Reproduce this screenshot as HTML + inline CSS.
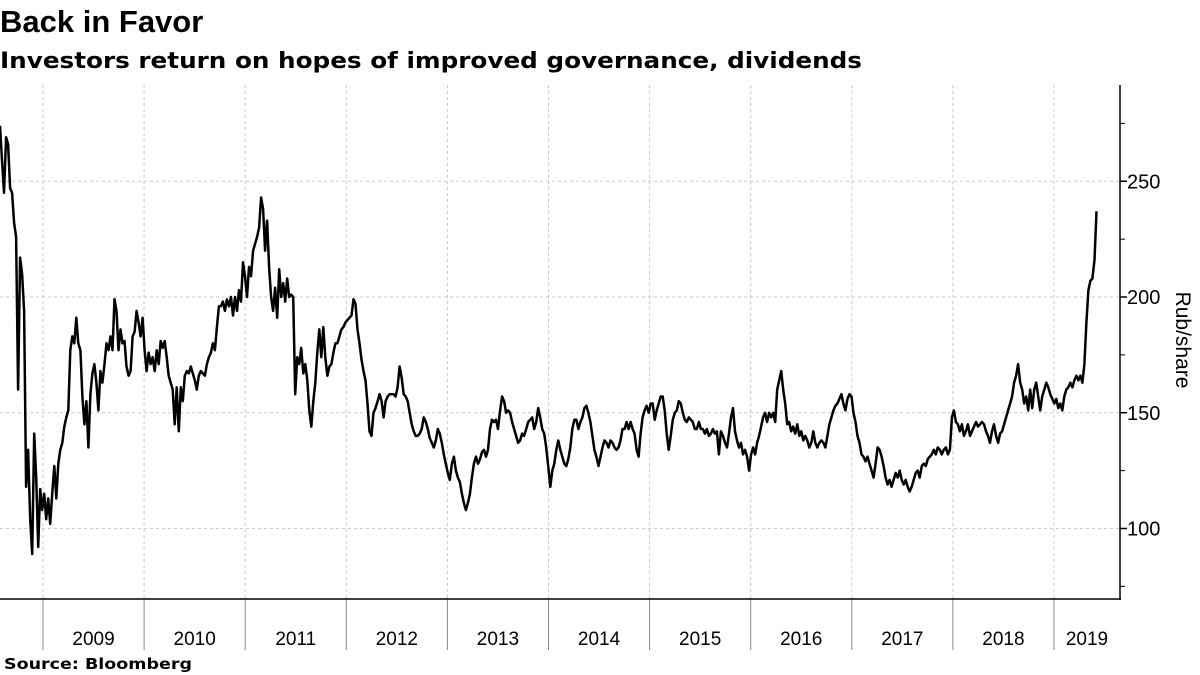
<!DOCTYPE html>
<html><head><meta charset="utf-8">
<style>
html,body{margin:0;padding:0;background:#fff;}
svg{display:block;}
</style></head>
<body>
<svg id="chart" width="1200" height="675" xmlns="http://www.w3.org/2000/svg">
<text x="0" y="32" font-family="Liberation Sans, sans-serif" font-weight="bold" font-size="31" fill="#000">Back in Favor</text>
<text x="0" y="68" font-family="DejaVu Sans, sans-serif" font-weight="bold" font-size="22" textLength="862" lengthAdjust="spacingAndGlyphs" fill="#000">Investors return on hopes of improved governance, dividends</text>
<text x="4" y="669" font-family="DejaVu Sans, sans-serif" font-weight="bold" font-size="15" textLength="188" lengthAdjust="spacingAndGlyphs" fill="#000">Source:  Bloomberg</text>
<text transform="translate(1176,340) rotate(90)" text-anchor="middle" font-family="Liberation Sans, sans-serif" font-size="21" fill="#000">Rub/share</text>
<g id="grid"></g>
<g id="axes"></g>
<path id="line" fill="none" stroke="#000" stroke-width="2.5" stroke-linejoin="round"/>
</svg>
<script>
const yTicks = [100, 150, 200, 250];
const yMinorTicks = [75, 125, 175, 225, 275];
const years = [2009, 2010, 2011, 2012, 2013, 2014, 2015, 2016, 2017, 2018, 2019];
const startYear = 2008.575;
const endYear = 2019.42;
const prices = [274,259,245,269,266,247,245,232,226,160,
217,210,194,118,134,104,89,141,122,92,
117,108,115,104,113,102,115,127,113,128,
134,137,144,148,151,177,183,180,191,180,
177,157,145,155,135,158,167,171,163,151,
168,163,171,180,177,183,177,199,194,177,
186,180,181,170,166,168,183,185,194,189,
183,191,177,168,176,171,174,168,177,171,
181,178,181,174,166,163,160,145,161,142,
161,155,166,168,167,170,167,164,160,166,
168,167,166,171,174,176,180,177,187,196,
196,198,194,199,196,200,192,200,194,203,
198,215,209,200,213,209,220,223,226,230,
243,238,220,233,213,200,194,204,191,212,
200,206,198,208,200,201,200,158,174,171,
178,167,171,164,151,144,155,163,176,186,
174,187,174,166,170,171,176,180,180,183,
186,187,189,190,191,192,
199,197,186,180,173,168,164,154,142,140,
150,152,155,158,155,148,155,157,158,158,
158,157,161,170,165,158,157,155,150,145,
142,140,140,141,143,148,146,143,139,137,
135,138,143,141,137,132,128,124,121,128,
131,125,122,120,115,111,108,111,115,122,
128,131,128,130,133,134,131,134,143,147,
146,147,143,151,157,155,150,151,150,146,
143,140,137,138,141,140,143,146,147,148,
143,146,152,148,143,141,135,127,118,125,
128,134,138,134,131,128,127,130,135,143,
147,147,143,146,148,152,153,150,146,140,
134,131,127,131,135,138,137,135,138,137,
135,134,135,138,143,143,146,143,146,143,
141,134,131,141,148,151,153,150,154,154,
147,151,154,157,157,151,141,134,140,147,
150,151,155,154,150,147,146,148,147,146,
143,143,146,143,143,141,143,140,141,143,
141,
142,132,142,140,137,135,141,148,152,142,
138,135,137,132,134,131,125,132,135,132,
137,140,144,148,150,146,150,148,150,146,
160,164,168,160,154,145,146,142,144,141,
145,140,142,138,140,138,135,137,142,137,
135,137,138,137,135,140,145,148,151,153,
154,156,158,154,151,156,158,157,150,146,
140,137,132,131,129,131,128,125,122,128,
135,134,131,127,122,119,121,118,121,124,
122,125,121,119,121,118,116,118,121,124,
125,122,127,128,127,130,131,132,134,132,
135,134,132,134,135,132,134,148,151,146,
145,142,145,140,142,145,140,142,144,146,
144,145,146,145,142,140,137,142,145,140,
137,141,142,145,148,151,154,157,163,166,
171,163,160,154,157,151,160,152,160,163,
157,151,157,160,163,161,158,156,154,156,
152,154,151,157,160,161,163,161,164,166,
164,166,163,171,189,203,207,208,216,237];

const NS = 'http://www.w3.org/2000/svg';
const plotLeft = 0, plotRight = 1120, plotTop = 85, plotBottom = 599;
function xScale(t){ return 43 + (t - 2009) * 101.1; }
function yScale(v){ return 528.5 - (v - 100) * 2.315; }
function mk(tag, attrs, parent){
  const el = document.createElementNS(NS, tag);
  for (const k in attrs) el.setAttribute(k, attrs[k]);
  parent.appendChild(el);
  return el;
}
const grid = document.getElementById('grid');
const axes = document.getElementById('axes');

yTicks.forEach(v => {
  const y = yScale(v);
  const gl = mk('line', {x1: plotLeft, x2: plotRight, y1: y, y2: y, stroke: '#c8c8c8', 'stroke-width': 1, 'stroke-dasharray': '3,3'}, grid);
  
  
  const tk = mk('line', {x1: plotRight, x2: plotRight + 7, y1: y, y2: y, stroke: '#000', 'stroke-width': 1.5}, axes);
  
  
  const tl = mk('text', {x: 1127, y: y + 7, 'font-family': 'Liberation Sans, sans-serif', 'font-size': 20, fill: '#000'}, axes);
  tl.textContent = v;
  
  
});
yMinorTicks.forEach(v => {
  const y = yScale(v);
  const tk = mk('line', {x1: plotRight, x2: plotRight + 5, y1: y, y2: y, stroke: '#000', 'stroke-width': 1}, axes);
  
  
});
years.forEach((yr, i) => {
  const x = xScale(yr);
  const gl = mk('line', {x1: x, x2: x, y1: plotTop, y2: plotBottom, stroke: '#c8c8c8', 'stroke-width': 1, 'stroke-dasharray': '3,3'}, grid);
  
  
  const sep = mk('line', {x1: x, x2: x, y1: plotBottom, y2: 650, stroke: '#888', 'stroke-width': 1}, axes);
  
  
  const nx = i < years.length - 1 ? xScale(years[i + 1]) : plotRight;
  const tl = mk('text', {x: (x + nx) / 2, y: 645, 'text-anchor': 'middle', 'font-family': 'Liberation Sans, sans-serif', 'font-size': 19, fill: '#000'}, axes);
  tl.textContent = yr;
  
  
});
const ax1 = mk('line', {x1: plotRight, x2: plotRight, y1: plotTop, y2: plotBottom + 1, stroke: '#000', 'stroke-width': 1.5}, axes);


const ax2 = mk('line', {x1: plotLeft, x2: plotRight + 1, y1: plotBottom, y2: plotBottom, stroke: '#000', 'stroke-width': 1.5}, axes);



const n = prices.length;
let d = '';
prices.forEach((v, i) => {
  const t = startYear + (endYear - startYear) * i / (n - 1);
  d += (i ? 'L' : 'M') + xScale(t).toFixed(1) + ',' + yScale(v).toFixed(1);
});
document.getElementById('line').setAttribute('d', d);
</script>
</body></html>
